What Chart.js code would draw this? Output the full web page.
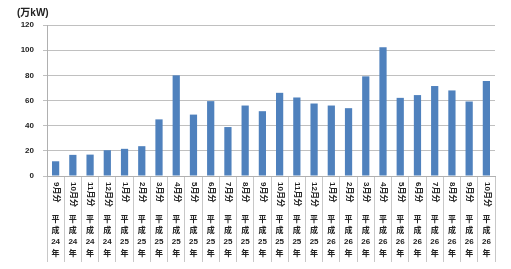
<!DOCTYPE html>
<html><head><meta charset="utf-8">
<script src="https://cdn.jsdelivr.net/npm/chart.js@4/dist/chart.umd.min.js"></script>
<style>html,body{margin:0;padding:0;background:#fff}#wrap{width:511px;height:269px}</style>
</head><body><div id="wrap"><canvas id="c" width="511" height="269"></canvas></div>
<script>
const months = ['9月分','10月分','11月分','12月分','1月分','2月分','3月分','4月分','5月分','6月分','7月分','8月分','9月分','10月分','11月分','12月分','1月分','2月分','3月分','4月分','5月分','6月分','7月分','8月分','9月分','10月分'];
const years = ['24','24','24','24','25','25','25','25','25','25','25','25','25','25','25','25','26','26','26','26','26','26','26','26','26','26'];
const values = [11.7,16.8,17,20.5,21.6,23.7,45,80,48.8,59.5,38.9,56,51.5,66.1,62.4,57.6,56,53.9,79.2,102.4,62.1,64.3,71.5,68,59.2,75.5];
const yTicks = [0,20,40,60,80,100,120];
const unitLabel = '(万kW)';

const FONT = '"Liberation Sans","Noto Sans CJK JP",sans-serif';

const monthPlugin = {
  id: 'monthLabels',
  afterDraw(chart) {
    const xs = chart.scales.x, ctx = chart.ctx;
    ctx.save();
    ctx.font = 'bold 8px ' + FONT;
    ctx.fillStyle = '#222';
    ctx.textAlign = 'left';
    ctx.textBaseline = 'middle';
    months.forEach((m, i) => {
      const x = xs.getPixelForValue(i);
      ctx.save();
      ctx.translate(x + 0.5, xs.top + 6);
      ctx.rotate(Math.PI / 2);
      ctx.fillText(m, 0, 0);
      ctx.restore();
    });
    ctx.restore();
  }
};

new Chart(document.getElementById('c'), {
  type: 'bar',
  data: {
    labels: months.map((m, i) => ['平', '成', years[i], '年']),
    datasets: [{ data: values, backgroundColor: '#4f81bd', borderWidth: 0, barPercentage: 0.42, categoryPercentage: 1 }]
  },
  plugins: [monthPlugin],
  options: {
    responsive: false,
    animation: false,
    devicePixelRatio: 1,
    layout: { padding: { left: 17, right: 16, top: 0, bottom: 0 } },
    plugins: {
      legend: { display: false },
      tooltip: { enabled: false },
      title: { display: true, text: unitLabel, align: 'start', color: '#222',
        font: { family: FONT, size: 10, weight: 'bold' }, padding: { top: 7, bottom: 6 } }
    },
    scales: {
      x: {
        grid: { display: true, drawOnChartArea: false, drawTicks: true, tickLength: 86, color: '#c8c8c8', offset: true },
        border: { display: true, color: '#b0b0b0' },
        ticks: { autoSkip: false, maxRotation: 0, minRotation: 0, padding: -48, color: '#222',
          font: { family: FONT, size: 8, weight: 'bold', lineHeight: 1.41 } },
        afterFit(s) { s.height = 93; }
      },
      y: {
        min: 0, max: 120,
        afterBuildTicks(s) { s.ticks = yTicks.map(v => ({ value: v })); },
        grid: { color: '#c0c0c0', tickLength: 4, drawTicks: true },
        border: { display: true, color: '#b0b0b0' },
        ticks: { color: '#222', padding: 9, font: { family: FONT, size: 8, weight: 'bold' } },
        afterFit(s) { s.width = 30; }
      }
    }
  }
});
</script></body></html>
